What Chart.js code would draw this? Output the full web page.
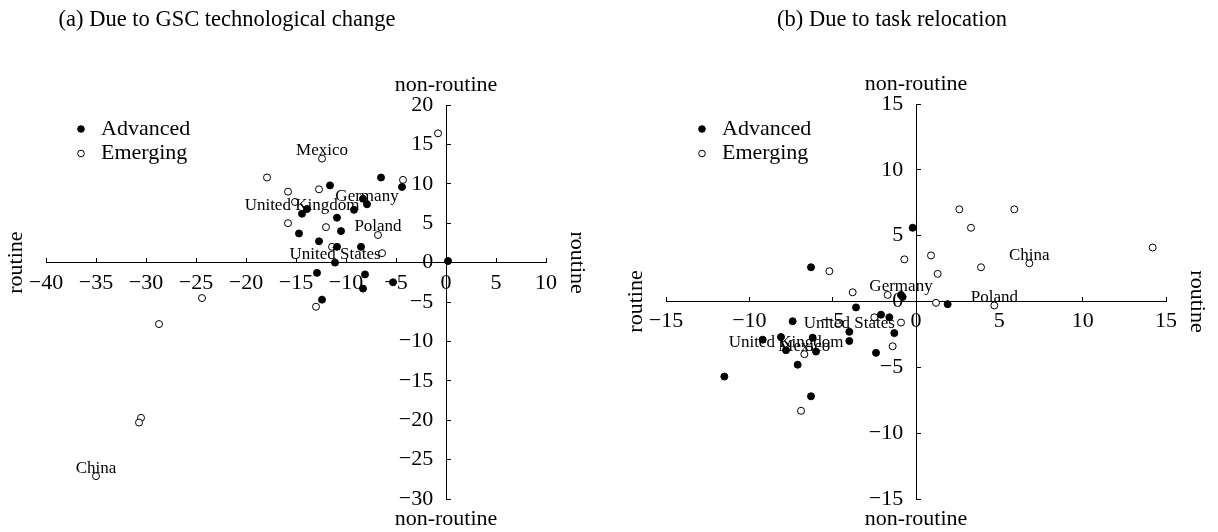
<!DOCTYPE html>
<html>
<head>
<meta charset="utf-8">
<script src="https://cdn.jsdelivr.net/npm/chart.js@4.4.1/dist/chart.umd.min.js"></script>
<style>
  body { margin: 0; background: #fff; }
  .panel { position: absolute; top: 0; width: 609px; height: 532px; }
</style>
</head>
<body>
<div class="panel" style="left:0"><canvas id="chartA" width="609" height="532"></canvas></div>
<div class="panel" style="left:609px"><canvas id="chartB" width="609" height="532"></canvas></div>
<script>
// (a) due to GSC technological change
const advancedAX = [-6.5, -4.4, -11.6, -8.3, -7.9, -9.2, -13.9, -14.4, -10.9, -10.5, -14.7, -12.7, -10.9, -8.5, -11.1, 0.2, -12.9, -8.1, -8.3, -5.3, -12.4];
const advancedAY = [10.8, 9.6, 9.8, 8.1, 7.4, 6.7, 6.8, 6.2, 5.7, 4.0, 3.7, 2.7, 2.0, 2.0, 0.0, 0.2, -1.3, -1.5, -3.3, -2.5, -4.7];
const emergingAX = [-12.4, -17.9, -4.3, -15.8, -12.7, -15.1, -15.8, -12.0, -6.8, -11.4, -6.4, -13.0, -0.8, -24.4, -28.7, -30.5, -30.7, -35.0];
const emergingAY = [13.2, 10.8, 10.5, 9.0, 9.3, 7.7, 5.0, 4.5, 3.5, 2.0, 1.2, -5.6, 16.4, -4.5, -7.8, -19.7, -20.3, -27.1];
// [country, dataset (0 advanced, 1 emerging), point index]
const namesA = [["Mexico", 1, 0], ["Germany", 0, 4], ["United Kingdom", 0, 7], ["Poland", 1, 8], ["United States", 0, 14], ["China", 1, 17]];

// (b) due to task relocation
const advancedBX = [-0.2, -6.3, -0.9, -0.8, 1.9, -3.6, -7.4, -2.1, -1.6, -4.0, -1.3, -6.2, -8.1, -9.2, -4.0, -7.8, -6.0, -2.4, -7.1, -11.5, -6.3];
const advancedBY = [5.6, 2.6, 0.5, 0.35, -0.2, -0.45, -1.5, -1.0, -1.2, -2.3, -2.4, -2.75, -2.7, -2.9, -3.0, -3.7, -3.8, -3.9, -4.8, -5.7, -7.2];
const emergingBX = [2.6, 5.9, 3.3, 0.9, -0.7, -5.2, 1.3, 3.9, 6.8, 14.2, -3.8, -1.7, 1.2, 4.7, -2.5, -0.9, -1.4, -6.7, -6.9];
const emergingBY = [7.0, 7.0, 5.6, 3.5, 3.2, 2.3, 2.1, 2.6, 2.9, 4.1, 0.7, 0.5, -0.1, -0.3, -1.2, -1.6, -3.4, -4.0, -8.3];
const namesB = [["Germany", 0, 2], ["United States", 0, 9], ["United Kingdom", 0, 15], ["China", 1, 8], ["Poland", 1, 13], ["Mexico", 1, 17]];

const serif = "'Liberation Serif', 'DejaVu Serif', serif";
const minus = (v) => String(v).replace("-", "\u2212");
const toPoints = (xs, ys) => xs.map((x, i) => ({ x: x, y: ys[i] }));

// titles, axis-end words, legend and country names
const decor = {
  id: "decor",
  afterDraw(chart) {
    const o = chart.options.plugins.decor;
    const ctx = chart.ctx;
    const xs = chart.scales.x, ys = chart.scales.y;
    const x0 = xs.getPixelForValue(0), y0 = ys.getPixelForValue(0);
    ctx.save();
    ctx.fillStyle = "#000";
    ctx.textAlign = "center";
    ctx.textBaseline = "middle";

    ctx.font = "22.5px " + serif;
    ctx.fillText(o.title, o.titleX, 20);

    ctx.font = "22px " + serif;
    ctx.fillText("non-routine", x0, ys.top - 20);
    ctx.fillText("non-routine", x0, ys.bottom + 20);
    ctx.save();
    ctx.translate(xs.left - 30, y0);
    ctx.rotate(-Math.PI / 2);
    ctx.fillText("routine", 0, 0);
    ctx.restore();
    ctx.save();
    ctx.translate(xs.right + 31, y0);
    ctx.rotate(Math.PI / 2);
    ctx.fillText("routine", 0, 0);
    ctx.restore();

    // legend
    ctx.textAlign = "left";
    chart.data.datasets.forEach((ds, i) => {
      const ly = 129 + i * 24.5;
      ctx.beginPath();
      ctx.arc(o.legendX, ly, 3.3, 0, Math.PI * 2);
      ctx.fillStyle = ds.backgroundColor;
      ctx.fill();
      ctx.lineWidth = 1;
      ctx.strokeStyle = "#000";
      ctx.stroke();
      ctx.fillStyle = "#000";
      ctx.fillText(ds.label, o.legendX + 20, ly);
    });

    // country names
    ctx.textAlign = "center";
    ctx.font = "17px " + serif;
    o.names.forEach(([name, di, pi]) => {
      const el = chart.getDatasetMeta(di).data[pi];
      ctx.fillText(name, el.x, el.y - 8);
    });
    ctx.restore();
  },
};

function axis(min, max, pos, horizontal) {
  return {
    type: "linear",
    min: min,
    max: max,
    position: pos,
    afterFit: (s) => {
      if (horizontal) s.height = 0;
      else s.width = 0;
    },
    border: { color: "#000", width: 1 },
    // negative length: x ticks point up, y ticks point right
    grid: { display: true, drawOnChartArea: false, drawTicks: true, tickLength: -5, color: "#000" },
    ticks: {
      stepSize: 5,
      autoSkip: false,
      maxRotation: 0,
      padding: 12,
      color: "#000",
      font: { family: serif, size: 22 },
      // y labels sit on the axis line, so pad them with trailing spaces
      callback: horizontal ? minus : (v) => minus(v) + "  \u200A",
    },
  };
}

function makeChart(id, adv, emg, xr, yr, pad, extra) {
  return new Chart(document.getElementById(id), {
    type: "scatter",
    data: {
      datasets: [
        { label: "Advanced", data: adv, backgroundColor: "#000", borderColor: "#000", borderWidth: 1, pointRadius: 3.5 },
        { label: "Emerging", data: emg, backgroundColor: "#fff", borderColor: "#000", borderWidth: 1, pointRadius: 3.5 },
      ],
    },
    options: {
      responsive: false,
      animation: false,
      layout: { padding: pad },
      scales: {
        x: axis(xr[0], xr[1], { y: 0 }, true),
        y: axis(yr[0], yr[1], { x: 0 }, false),
      },
      plugins: {
        legend: { display: false },
        tooltip: { enabled: false },
        decor: extra,
      },
    },
    plugins: [decor],
  });
}

makeChart("chartA", toPoints(advancedAX, advancedAY), toPoints(emergingAX, emergingAY),
  [-40, 10], [-30, 20], { left: 46, right: 63, top: 105, bottom: 33 },
  { title: "(a) Due to GSC technological change", titleX: 227, legendX: 81, names: namesA });

makeChart("chartB", toPoints(advancedBX, advancedBY), toPoints(emergingBX, emergingBY),
  [-15, 15], [-15, 15], { left: 57, right: 52, top: 104, bottom: 33 },
  { title: "(b) Due to task relocation", titleX: 283, legendX: 93, names: namesB });
</script>
</body>
</html>
